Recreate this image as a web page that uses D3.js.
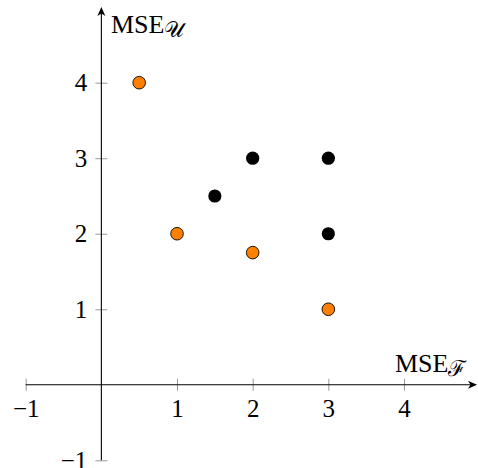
<!DOCTYPE html>
<html>
<head>
<meta charset="utf-8">
<script src="https://cdn.jsdelivr.net/npm/d3@7"></script>
<style>
  body { margin: 0; background: #fff; }
  text { font-family: "Liberation Serif", "DejaVu Serif", serif; fill: #000; }
</style>
</head>
<body>
<svg width="478" height="468"></svg>
<script>
(function (d3) {
    'use strict';

    // data
    const orangeX = [0.5, 1, 2, 3];
    const orangeY = [4, 2, 1.75, 1];
    const blackX = [1.5, 2, 3, 3];
    const blackY = [2.5, 3, 3, 2];
    const tickVals = [-1, 1, 2, 3, 4];

    const svg = d3.select('svg');

    const x = d3.scaleLinear().domain([-1, 4]).range([25.7, 404]);
    const y = d3.scaleLinear().domain([-1, 4]).range([460.3, 82.7]);

    const x0 = x(0), y0 = y(0);
    const fmt = d3.format('d');

    // ticks
    const xAxis = svg.append('g')
        .attr('transform', `translate(0,${y0})`)
        .call(d3.axisBottom(x).tickValues(tickVals).tickFormat(fmt).tickSize(6).tickPadding(0));
    const yAxis = svg.append('g')
        .attr('transform', `translate(${x0},0)`)
        .call(d3.axisLeft(y).tickValues(tickVals).tickFormat(fmt).tickSize(6).tickPadding(0));

    [xAxis, yAxis].forEach(g => {
        g.attr('font-family', null);
        g.select('.domain').remove();
        g.selectAll('.tick line').attr('stroke', '#999').attr('stroke-width', 1);
        g.selectAll('.tick text').attr('font-size', 25);
    });
    xAxis.selectAll('.tick line').attr('y1', -6).attr('y2', 6);
    xAxis.selectAll('.tick text').attr('y', 32.5).attr('dy', 0);
    yAxis.selectAll('.tick line').attr('x1', -6).attr('x2', 6);
    yAxis.selectAll('.tick text').attr('x', -14).attr('dy', '0.32em');

    // axis lines with arrows
    svg.append('line')
        .attr('x1', x(-1)).attr('x2', 474).attr('y1', y0).attr('y2', y0)
        .attr('stroke', '#000').attr('stroke-width', 1.1);
    svg.append('line')
        .attr('x1', x0).attr('x2', x0).attr('y1', y(-1)).attr('y2', 10)
        .attr('stroke', '#000').attr('stroke-width', 1.1);

    svg.append('path')
        .attr('d', `M477,${y0} L468,${y0 - 4} L470.5,${y0} L468,${y0 + 4} Z`)
        .attr('fill', '#000');
    svg.append('path')
        .attr('d', `M${x0},7 L${x0 - 4},16 L${x0},13.5 L${x0 + 4},16 Z`)
        .attr('fill', '#000');

    // axis labels
    const yl = svg.append('text').attr('x', 111).attr('y', 33).attr('font-size', 26);
    yl.append('tspan').text('MSE');
    yl.append('tspan').attr('font-size', 22).attr('dy', 3.5).text('𝒰');

    const xl = svg.append('text').attr('x', 395).attr('y', 372).attr('font-size', 26);
    xl.append('tspan').text('MSE');
    xl.append('tspan').attr('font-size', 22).attr('dy', 3.5).text('ℱ');

    // points
    svg.append('g').selectAll('circle')
        .data(blackX.map((v, i) => [v, blackY[i]]))
        .join('circle')
        .attr('cx', d => x(d[0])).attr('cy', d => y(d[1]))
        .attr('r', 6.6)
        .attr('fill', '#000');

    svg.append('g').selectAll('circle')
        .data(orangeX.map((v, i) => [v, orangeY[i]]))
        .join('circle')
        .attr('cx', d => x(d[0])).attr('cy', d => y(d[1]))
        .attr('r', 6.3)
        .attr('fill', '#ff8000')
        .attr('stroke', '#000')
        .attr('stroke-width', 0.9);
}(d3));
</script>
</body>
</html>
